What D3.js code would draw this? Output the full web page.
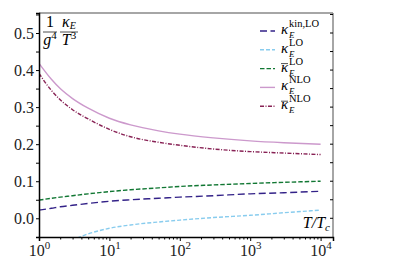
<!DOCTYPE html>
<html>
<head>
<meta charset="utf-8">
<script src="https://cdn.jsdelivr.net/npm/d3@7"></script>
<style>
  body { margin: 0; background: #fff; }
  svg text { font-family: "Liberation Serif", "DejaVu Serif", serif; }
</style>
</head>
<body>
<svg id="chart" width="397" height="264"></svg>
<script>
// temperature grid T/Tc
const temps = [1, 1.5, 2, 3, 5, 10, 20, 50, 100, 300, 1000, 3000, 10000];
// kappa_E / (g^4 T^3)
const kinLO   = [0.022, 0.027, 0.031, 0.035, 0.040, 0.046, 0.050, 0.054, 0.057, 0.061, 0.066, 0.069, 0.073];
const kLO     = [null, null, -0.070, -0.058, -0.042, -0.027, -0.018, -0.010, -0.005, 0.002, 0.008, 0.015, 0.022];
const kbarLO  = [0.049, 0.054, 0.057, 0.061, 0.066, 0.072, 0.077, 0.082, 0.086, 0.090, 0.094, 0.097, 0.100];
const kNLO    = [0.418, 0.375, 0.350, 0.323, 0.297, 0.270, 0.252, 0.236, 0.227, 0.217, 0.209, 0.204, 0.200];
const kbarNLO = [0.391, 0.345, 0.320, 0.293, 0.268, 0.240, 0.220, 0.205, 0.197, 0.187, 0.180, 0.176, 0.172];

const yTicks = [0.0, 0.1, 0.2, 0.3, 0.4, 0.5];
const xTicks = [1, 10, 100, 1000, 10000];
const legendSups = ["kin,LO", "LO", "LO", "NLO", "NLO"];
const legendBars = [false, false, true, false, true];

const margin = { top: 13, right: 64, bottom: 27, left: 39 };
const width = 397 - margin.left - margin.right;
const height = 264 - margin.top - margin.bottom;
const serif = "'Liberation Serif', 'DejaVu Serif', serif";

const x = d3.scaleLog().domain([1, 15000]).range([0, width]);
const y = d3.scaleLinear().domain([-0.0505, 0.554]).range([height, 0]);

const svg = d3.select("#chart");
const g = svg.append("g").attr("transform", `translate(${margin.left},${margin.top})`);

g.append("clipPath").attr("id", "clip")
  .append("rect").attr("width", width).attr("height", height);

const series = [
  { values: kinLO, color: "#332288", dash: "7,3.5" },
  { values: kLO, color: "#88CCEE", dash: "4,2" },
  { values: kbarLO, color: "#117733", dash: "4.5,2" },
  { values: kNLO, color: "#CC99CC", dash: null },
  { values: kbarNLO, color: "#882255", dash: "4,1.5,1,1.5" }
];

const line = d3.line()
  .defined(d => d[1] !== null)
  .x(d => x(d[0]))
  .y(d => y(d[1]))
  .curve(d3.curveMonotoneX);

series.forEach(s => {
  g.append("path")
    .datum(temps.map((t, i) => [t, s.values[i]]))
    .attr("clip-path", "url(#clip)")
    .attr("fill", "none")
    .attr("stroke", s.color)
    .attr("stroke-width", 1.4)
    .attr("stroke-dasharray", s.dash)
    .attr("d", line);
});

// frame: top and right in grey
g.append("line").attr("x1", 0).attr("x2", width).attr("y1", 0).attr("y2", 0)
  .attr("stroke", "#888").attr("stroke-width", 1.5);
g.append("line").attr("x1", width).attr("x2", width).attr("y1", 0).attr("y2", height)
  .attr("stroke", "#888").attr("stroke-width", 1.5);

// right inward ticks
g.append("g").selectAll("line").data(d3.range(0, 0.551, 0.05)).enter().append("line")
  .attr("x1", width).attr("x2", width - 3)
  .attr("y1", d => y(d)).attr("y2", d => y(d))
  .attr("stroke", "#000").attr("stroke-width", 1);

// left axis
const yAxis = g.append("g")
  .call(d3.axisLeft(y).tickValues(yTicks).tickFormat(d3.format(".1f")).tickSize(3).tickPadding(2))
  .attr("font-family", serif);
yAxis.select(".domain").attr("stroke-width", 1.5);
yAxis.selectAll("text").attr("font-size", 16).attr("fill", "#222").attr("dy", "0.35em");
g.append("g").call(d3.axisLeft(y).tickValues(d3.range(0.05, 0.551, 0.1)).tickFormat("").tickSize(3))
  .select(".domain").remove();

// bottom axis
const xAxis = g.append("g").attr("transform", `translate(0,${height})`)
  .call(d3.axisBottom(x).tickValues(xTicks).tickFormat("").tickSize(4))
  .attr("font-family", serif);
xAxis.select(".domain").attr("stroke-width", 1.5);
const minors = [];
for (let e = 0; e < 5; e++) for (let k = 2; k <= 9; k++) {
  const v = k * Math.pow(10, e);
  if (v <= 15000) minors.push(v);
}
g.append("g").attr("transform", `translate(0,${height})`)
  .call(d3.axisBottom(x).tickValues(minors).tickFormat("").tickSize(2.5))
  .select(".domain").remove();

xAxis.selectAll(".tick").append("text")
  .attr("y", 19).attr("fill", "#222").attr("font-size", 16)
  .attr("text-anchor", "middle")
  .each(function(d) {
    const t = d3.select(this);
    t.append("tspan").text("10");
    t.append("tspan").attr("dy", -7).attr("font-size", 11).text(Math.round(Math.log10(d)));
  });

// y label: 1/g^4 kappa_E/T^3
function frac(x0, num, den, w) {
  const fg = g.append("g").attr("transform", `translate(${x0},0)`);
  fg.append("line").attr("x1", 0).attr("x2", w).attr("y1", 19).attr("y2", 19)
    .attr("stroke", "#222").attr("stroke-width", 0.8);
  num(fg.append("text").attr("x", w / 2).attr("y", 14).attr("text-anchor", "middle").attr("font-size", 16));
  den(fg.append("text").attr("x", w / 2).attr("y", 32).attr("text-anchor", "middle").attr("font-size", 16));
}
frac(4, t => t.text("1"), t => {
  t.append("tspan").attr("font-style", "italic").text("g");
  t.append("tspan").attr("dy", -6).attr("font-size", 11).text("4");
}, 14);
frac(21, t => {
  t.append("tspan").attr("font-style", "italic").text("κ");
  t.append("tspan").attr("dy", 2).attr("font-size", 10).attr("font-style", "italic").text("E");
}, t => {
  t.append("tspan").attr("font-style", "italic").text("T");
  t.append("tspan").attr("dy", -6).attr("font-size", 11).text("3");
}, 18);

// x label
const xl = g.append("text").attr("x", width - 3).attr("y", height - 9)
  .attr("text-anchor", "end").attr("font-size", 16).attr("font-style", "italic");
xl.append("tspan").text("T/T");
xl.append("tspan").attr("dy", 3).attr("font-size", 11).text("c");

// legend
const leg = g.append("g").attr("transform", `translate(${260 - margin.left},${31 - margin.top})`);
series.forEach((s, i) => {
  const row = leg.append("g").attr("transform", `translate(0,${i * 18.8})`);
  row.append("line").attr("x1", 0).attr("x2", 15).attr("y1", 0).attr("y2", 0)
    .attr("stroke", s.color).attr("stroke-width", 1.4).attr("stroke-dasharray", s.dash);
  row.append("text").attr("x", 21).attr("y", 3).attr("font-size", 15)
    .attr("font-style", "italic").text("κ");
  row.append("text").attr("x", 29).attr("y", 7).attr("font-size", 9)
    .attr("font-style", "italic").text("E");
  row.append("text").attr("x", 29).attr("y", -4).attr("font-size", 10.5)
    .text(legendSups[i]);
  if (legendBars[i]) {
    row.append("line").attr("x1", 21).attr("x2", 28).attr("y1", -5).attr("y2", -5)
      .attr("stroke", "#222").attr("stroke-width", 0.8);
  }
});
</script>
</body>
</html>
